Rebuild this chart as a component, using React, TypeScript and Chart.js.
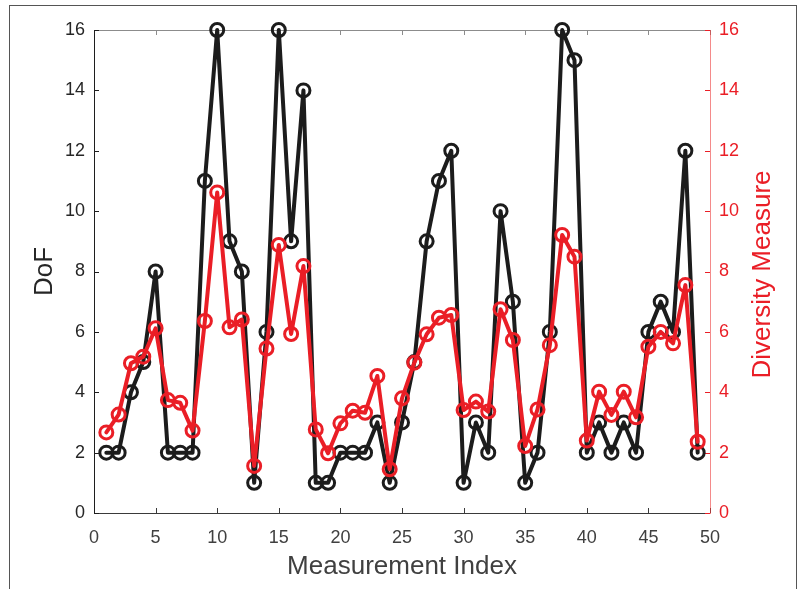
import React, { useEffect, useRef } from "react";
import { Chart, registerables } from "chart.js";

Chart.register(...registerables);

// ---- Data ----
const measurementIndex = [
  1, 2, 3, 4, 5, 6, 7, 8, 9, 10, 11, 12, 13, 14, 15, 16, 17, 18, 19, 20, 21, 22, 23, 24, 25,
  26, 27, 28, 29, 30, 31, 32, 33, 34, 35, 36, 37, 38, 39, 40, 41, 42, 43, 44, 45, 46, 47, 48, 49,
];
const dofValues = [
  2, 2, 4, 5, 8, 2, 2, 2, 11, 16, 9, 8, 1, 6, 16, 9, 14, 1, 1, 2, 2, 2, 3, 1, 3,
  5, 9, 11, 12, 1, 3, 2, 10, 7, 1, 2, 6, 16, 15, 2, 3, 2, 3, 2, 6, 7, 6, 12, 2,
];
const diversityValues = [
  2.67, 3.26, 4.96, 5.18, 6.12, 3.74, 3.65, 2.73, 6.36, 10.62, 6.15, 6.41, 1.56, 5.45, 8.88,
  5.93, 8.18, 2.77, 1.98, 2.97, 3.39, 3.32, 4.54, 1.45, 3.8, 4.98, 5.92, 6.47, 6.56, 3.41,
  3.69, 3.36, 6.75, 5.73, 2.22, 3.43, 5.56, 9.21, 8.49, 2.4, 4.02, 3.25, 4.02, 3.17, 5.51,
  6.0, 5.62, 7.55, 2.36,
];
const xAxisRange = [0, 50];
const yAxisRange = [0, 16];
const xTickStep = 5;
const yTickStep = 2;
const xTitle = "Measurement Index";
const yTitle = "DoF";
const y2Title = "Diversity Measure";

// ---- Styles ----
const FONT = "'Liberation Sans', Arial, Helvetica, sans-serif";
const RED = "rgb(234,30,38)";
const BLACK = "rgb(28,28,28)";
const TEXT = "#404040";

const axesPlugin = {
  id: "matlabAxes",
  beforeDatasetsDraw(chart: any) {
    const { ctx, chartArea } = chart;
    const { left, right, top, bottom } = chartArea;
    const xs = chart.scales.x;
    const ys = chart.scales.y;
    const y2 = chart.scales.y2;
    const tickLen = 5;
    ctx.save();
    ctx.lineWidth = 1;
    ctx.strokeStyle = "#8c8c8c";
    ctx.beginPath();
    ctx.moveTo(left, top + 0.5);
    ctx.lineTo(right, top + 0.5);
    ctx.stroke();
    xs.ticks.forEach((t: any) => {
      const px = Math.round(xs.getPixelForValue(t.value)) + 0.5;
      ctx.beginPath();
      ctx.moveTo(px, top);
      ctx.lineTo(px, top + tickLen);
      ctx.stroke();
    });
    ctx.strokeStyle = "#3a3a3a";
    ctx.beginPath();
    ctx.moveTo(left, bottom + 0.5);
    ctx.lineTo(right, bottom + 0.5);
    ctx.stroke();
    xs.ticks.forEach((t: any) => {
      const px = Math.round(xs.getPixelForValue(t.value)) + 0.5;
      ctx.beginPath();
      ctx.moveTo(px, bottom);
      ctx.lineTo(px, bottom - tickLen);
      ctx.stroke();
    });
    ctx.strokeStyle = "#1e1e1e";
    ctx.beginPath();
    ctx.moveTo(left + 0.5, top);
    ctx.lineTo(left + 0.5, bottom + 1);
    ctx.stroke();
    ys.ticks.forEach((t: any) => {
      const py = Math.round(ys.getPixelForValue(t.value)) + 0.5;
      ctx.beginPath();
      ctx.moveTo(left, py);
      ctx.lineTo(left + tickLen, py);
      ctx.stroke();
    });
    ctx.strokeStyle = "rgba(236,60,60,0.6)";
    ctx.beginPath();
    ctx.moveTo(right + 0.5, top);
    ctx.lineTo(right + 0.5, bottom + 1);
    ctx.stroke();
    ctx.strokeStyle = RED;
    y2.ticks.forEach((t: any) => {
      const py = Math.round(y2.getPixelForValue(t.value)) + 0.5;
      ctx.beginPath();
      ctx.moveTo(right, py);
      ctx.lineTo(right - tickLen, py);
      ctx.stroke();
    });
    ctx.restore();
  },
  afterDraw(chart: any) {
    const { ctx, chartArea } = chart;
    ctx.save();
    ctx.translate(763, (chartArea.top + chartArea.bottom) / 2 + 3);
    ctx.rotate(-Math.PI / 2);
    ctx.textAlign = "center";
    ctx.textBaseline = "middle";
    ctx.fillStyle = RED;
    ctx.font = `26px ${FONT}`;
    ctx.fillText(y2Title, 0, 0);
    ctx.restore();
  },
};

export default function App() {
  const canvasRef = useRef<HTMLCanvasElement | null>(null);

  useEffect(() => {
    if (!canvasRef.current) return;
    const dofPoints = measurementIndex.map((x, i) => ({ x, y: dofValues[i] }));
    const divPoints = measurementIndex.map((x, i) => ({ x, y: diversityValues[i] }));
    const lineStyle = {
      backgroundColor: "rgba(0,0,0,0)",
      borderWidth: 4,
      borderJoinStyle: "round" as const,
      borderCapStyle: "round" as const,
      pointRadius: 6.5,
      pointBorderWidth: 3,
      pointBackgroundColor: "rgba(0,0,0,0)",
      tension: 0,
      clip: false as const,
    };
    const chart = new Chart(canvasRef.current, {
      type: "line",
      data: {
        datasets: [
          {
            ...lineStyle,
            label: "Diversity Measure",
            data: divPoints,
            yAxisID: "y2",
            borderColor: RED,
            pointBorderColor: RED,
            order: 0,
          },
          {
            ...lineStyle,
            label: "DoF",
            data: dofPoints,
            yAxisID: "y",
            borderColor: BLACK,
            pointBorderColor: BLACK,
            order: 1,
          },
        ],
      },
      options: {
        animation: false,
        responsive: false,
        devicePixelRatio: 1,
        layout: { padding: { top: 30, left: 0, right: 0, bottom: 0 } },
        plugins: { legend: { display: false }, tooltip: { enabled: false } },
        scales: {
          x: {
            type: "linear",
            position: "bottom",
            min: xAxisRange[0],
            max: xAxisRange[1],
            grid: { display: false, drawTicks: false },
            border: { display: false },
            ticks: {
              stepSize: xTickStep,
              padding: 14,
              color: TEXT,
              font: { family: FONT, size: 18 },
              maxRotation: 0,
            },
            title: {
              display: true,
              text: xTitle,
              color: TEXT,
              font: { family: FONT, size: 26 },
              padding: { top: 0, bottom: 7 },
            },
            afterFit: (s: any) => {
              s.height = 76;
            },
          },
          y: {
            type: "linear",
            position: "left",
            min: yAxisRange[0],
            max: yAxisRange[1],
            grid: { display: false, drawTicks: false },
            border: { display: false },
            ticks: {
              stepSize: yTickStep,
              padding: 9,
              color: "#262626",
              font: { family: FONT, size: 18 },
            },
            title: {
              display: true,
              text: yTitle,
              color: "#262626",
              font: { family: FONT, size: 26 },
              padding: { top: 29, bottom: 0 },
            },
            afterFit: (s: any) => {
              s.width = 94;
            },
          },
          y2: {
            type: "linear",
            position: "right",
            min: yAxisRange[0],
            max: yAxisRange[1],
            grid: { display: false, drawTicks: false },
            border: { display: false },
            ticks: {
              stepSize: yTickStep,
              padding: 9,
              color: RED,
              font: { family: FONT, size: 18 },
            },
            afterFit: (s: any) => {
              s.width = 97;
            },
          },
        },
      },
      plugins: [axesPlugin],
    });
    return () => chart.destroy();
  }, []);

  return (
    <div
      style={{
        position: "fixed",
        left: 0,
        top: 0,
        width: 807,
        height: 589,
        overflow: "hidden",
        background: "#fff",
      }}
    >
      <div
        style={{
          position: "absolute",
          left: 9,
          top: 5,
          width: 786,
          height: 700,
          border: "1px solid #555",
          borderBottom: "none",
        }}
      />
      <canvas
        ref={canvasRef}
        width={807}
        height={589}
        style={{ position: "absolute", left: 0, top: 0, width: 807, height: 589 }}
      />
    </div>
  );
}
